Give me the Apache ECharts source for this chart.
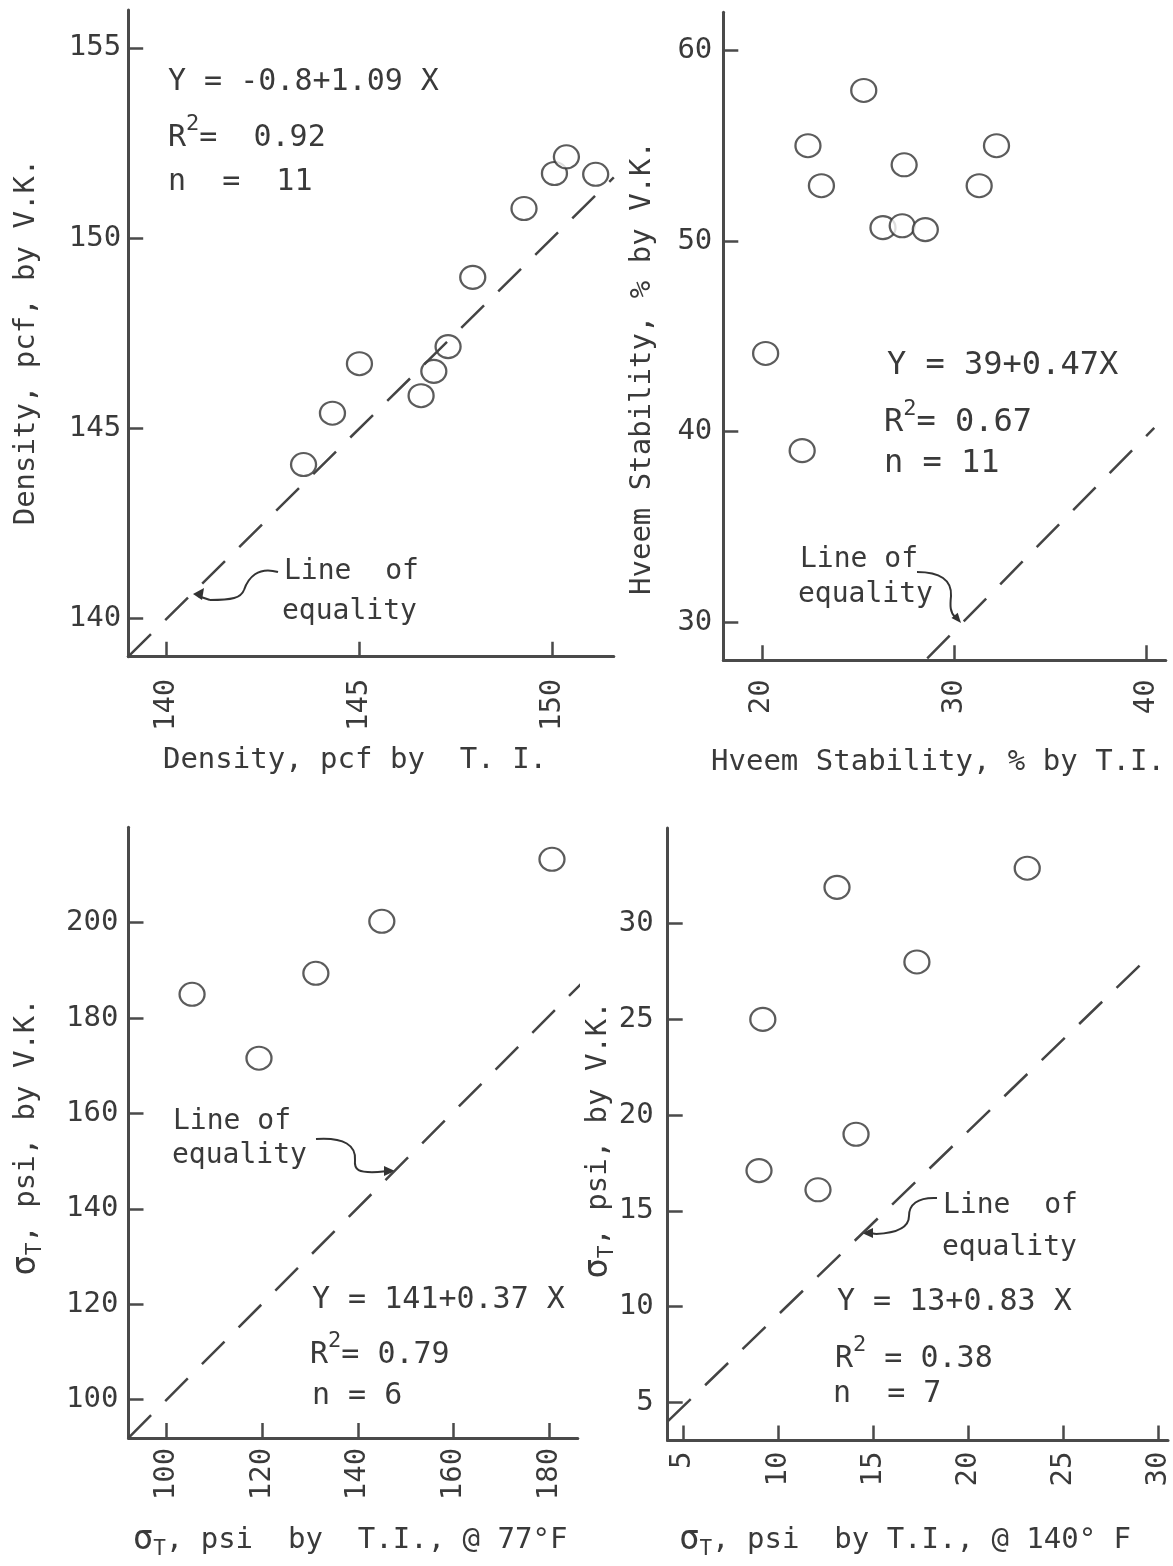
<!DOCTYPE html>
<html>
<head>
<meta charset="utf-8">
<script src="https://cdn.jsdelivr.net/npm/echarts@6/dist/echarts.min.js"></script>
<style>
  html, body { margin: 0; padding: 0; background: #fff; }
  #chart { width: 1173px; height: 1566px; }
</style>
</head>
<body>
<div id="chart"></div>
<script>
// values
const densityTI = [143.55, 144.3, 145.0, 146.6, 146.93, 147.3, 147.94, 149.27, 150.06, 150.37, 151.13];
const densityVK = [144.05, 145.4, 146.7, 145.86, 146.5, 147.15, 148.97, 150.78, 151.7, 152.14, 151.68];
const densityTicksX = [140, 145, 150];
const densityTicksY = [140, 145, 150, 155];
const densityEquality = [[139, 139], [151.6, 151.6]];

const hveemTI = [20.2, 22.4, 22.1, 23.1, 25.3, 26.3, 27.3, 27.4, 28.5, 31.3, 32.2];
const hveemVK = [44.1, 55.0, 39.0, 52.9, 57.9, 50.7, 50.8, 54.0, 50.6, 52.9, 55.0];
const hveemTicksX = [20, 30, 40];
const hveemTicksY = [30, 40, 50, 60];
const hveemEquality = [[28.6, 28.1], [40.4, 40.2]];

const sigma77TI = [105.3, 119.3, 131.2, 145.0, 180.6];
const sigma77VK = [185.0, 171.6, 189.4, 200.3, 213.3];
const sigma77TicksX = [100, 120, 140, 160, 180];
const sigma77TicksY = [100, 120, 140, 160, 180, 200];
const sigma77Equality = [[92, 92], [186.8, 187.3]];

const sigma140TI = [9.0, 9.2, 12.1, 13.1, 14.1, 17.3, 23.1];
const sigma140VK = [17.1, 25.0, 16.1, 31.9, 19.0, 28.0, 32.9];
const sigma140Ticks = [5, 10, 15, 20, 25, 30];
const sigma140Equality = [[4.2, 4.0], [29.1, 27.9]];

const FONT = 'DejaVu Sans Mono';
const INK = '#3a3a3a';
const AXIS = '#4a4a4a';

const zip = (xs, ys) => xs.map((x, i) => [x, ys[i]]);

function xAxisFor(grid, min, max, ticks, margin) {
  return {
    gridIndex: grid, type: 'value', min: min, max: max,
    axisLine: { show: true, onZero: false, lineStyle: { color: AXIS, width: 3 } },
    axisTick: { show: true, inside: true, length: 15, customValues: ticks, lineStyle: { color: AXIS, width: 2.5 } },
    axisLabel: { customValues: ticks, rotate: 90, margin: margin, color: INK, fontFamily: FONT, fontSize: 29 },
    splitLine: { show: false }
  };
}
function yAxisFor(grid, min, max, ticks, margin) {
  return {
    gridIndex: grid, type: 'value', min: min, max: max,
    axisLine: { show: true, onZero: false, lineStyle: { color: AXIS, width: 3 } },
    axisTick: { show: true, inside: true, length: 15, customValues: ticks, lineStyle: { color: AXIS, width: 2.5 } },
    axisLabel: { customValues: ticks, margin: margin, color: INK, fontFamily: FONT, fontSize: 29 },
    splitLine: { show: false }
  };
}
function points(i, data) {
  return {
    type: 'scatter', xAxisIndex: i, yAxisIndex: i, data: data, silent: true,
    symbol: 'circle', symbolSize: [25, 23],
    itemStyle: { color: '#fff', borderColor: '#333', borderWidth: 2.2 }
  };
}
function equality(i, data) {
  return {
    type: 'line', xAxisIndex: i, yAxisIndex: i, data: data, silent: true, clip: false,
    showSymbol: false, symbol: 'none',
    lineStyle: { color: '#444', width: 2.5, type: [32, 20] }
  };
}

function rich(size) {
  return {
    a: { fontFamily: FONT, fontSize: size, fill: INK, verticalAlign: 'middle' },
    sup: { fontFamily: FONT, fontSize: 22, fill: INK, verticalAlign: 'bottom', padding: [0, 0, 28, 0] },
    s: { fontFamily: FONT, fontSize: 34, fill: INK, verticalAlign: 'middle' },
    sub: { fontFamily: FONT, fontSize: 21, fill: INK, verticalAlign: 'top', padding: [20, 0, 0, 0] }
  };
}
function txt(x, y, str, size, extra) {
  return Object.assign({
    type: 'text', x: x, y: y, silent: true,
    style: { text: str, fill: INK, fontFamily: FONT, fontSize: size, textAlign: 'left', textVerticalAlign: 'middle', rich: rich(size) }
  }, extra || {});
}
function title(x, y, str, vertical) {
  const el = txt(x, y, str, 29);
  el.style.textAlign = 'center';
  if (vertical) el.rotation = Math.PI / 2;
  return el;
}
// curved pointer: two cubic pieces, a straight tail and a filled head
function arrow(c1, c2, tail, head) {
  const stroke = { fill: 'none', stroke: '#333', lineWidth: 2 };
  const curve = (c) => ({
    type: 'bezierCurve', silent: true, style: stroke,
    shape: { x1: c[0], y1: c[1], cpx1: c[2], cpy1: c[3], cpx2: c[4], cpy2: c[5], x2: c[6], y2: c[7] }
  });
  return [
    curve(c1),
    curve(c2),
    { type: 'line', silent: true, style: stroke, shape: { x1: c2[6], y1: c2[7], x2: tail[0], y2: tail[1] } },
    { type: 'polygon', silent: true, shape: { points: head }, style: { fill: '#333' } }
  ];
}

const graphic = [
  // panel 1
  txt(168, 82, 'Y = -0.8+1.09 X', 30),
  txt(168, 138, '{a|R}{sup|2}{a|=  0.92}', 30),
  txt(168, 182, 'n  =  11', 30),
  txt(284, 572, 'Line  of', 28),
  txt(282, 612, 'equality', 28),
  ...arrow([278, 572, 258, 566, 248, 578, 244, 590], [244, 590, 241, 598, 232, 600, 210, 600], [198, 596],
           [[193, 594], [204, 588], [202, 600]]),
  title(26, 342, 'Density, pcf, by V.K.', true),
  title(355, 760, 'Density, pcf by  T. I.', false),
  // panel 2
  txt(887, 366, 'Y = 39+0.47X', 32),
  txt(884, 423, '{a|R}{sup|2}{a|= 0.67}', 32),
  txt(884, 464, 'n = 11', 32),
  txt(800, 560, 'Line of', 28),
  txt(798, 595, 'equality', 28),
  ...arrow([917, 572, 940, 572, 952, 580, 951, 596], [951, 596, 950, 606, 950, 612, 955, 617], [957, 619],
           [[961, 623], [957.7, 612.7], [951.5, 617.9]]),
  title(642, 368, 'Hveem Stability, % by V.K.', true),
  title(938, 762, 'Hveem Stability, % by T.I.', false),
  // panel 3
  txt(312, 1300, 'Y = 141+0.37 X', 30),
  txt(310, 1355, '{a|R}{sup|2}{a|= 0.79}', 30),
  txt(312, 1396, 'n = 6', 30),
  txt(173, 1122, 'Line of', 28),
  txt(172, 1156, 'equality', 28),
  ...arrow([316, 1139, 345, 1137, 356, 1146, 355, 1160], [355, 1160, 354, 1170, 358, 1173, 378, 1172], [388, 1171],
           [[395, 1171], [384, 1166], [384, 1176]]),
  title(26, 1137, '{s|σ}{sub|T}{a|, psi, by V.K.}', true),
  title(350, 1540, '{s|σ}{sub|T}{a|, psi  by  T.I., @ 77°F}', false),
  // panel 4
  txt(837, 1302, 'Y = 13+0.83 X', 30),
  txt(835, 1359, '{a|R}{sup|2}{a| = 0.38}', 30),
  txt(833, 1394, 'n  = 7', 30),
  txt(943, 1206, 'Line  of', 28),
  txt(942, 1248, 'equality', 28),
  ...arrow([937, 1198, 917, 1197, 909, 1205, 909, 1216], [909, 1216, 909, 1228, 897, 1233, 876, 1234], [870, 1233],
           [[862, 1233], [873, 1228], [873, 1238]]),
  title(598, 1140, '{s|σ}{sub|T}{a|, psi, by V.K.}', true),
  title(905, 1540, '{s|σ}{sub|T}{a|, psi  by T.I., @ 140° F}', false)
];

const chart = echarts.init(document.getElementById('chart'));
chart.setOption({
  animation: false,
  backgroundColor: '#fff',
  grid: [
    { left: 128.2, top: 9.9, width: 485.6, height: 646.8 },
    { left: 723.3, top: 12.3, width: 442.5, height: 648 },
    { left: 128.5, top: 827.3, width: 449.3, height: 610.6 },
    { left: 667.7, top: 828, width: 502.6, height: 612.5 }
  ],
  xAxis: [
    xAxisFor(0, 139, 151.6, densityTicksX, 22),
    xAxisFor(1, 18, 41, hveemTicksX, 19),
    xAxisFor(2, 92, 186, sigma77TicksX, 10),
    xAxisFor(3, 4.2, 30.5, sigma140Ticks, 11)
  ],
  yAxis: [
    yAxisFor(0, 139, 156, densityTicksY, 7),
    yAxisFor(1, 28, 62, hveemTicksY, 11),
    yAxisFor(2, 92, 220, sigma77TicksY, 10),
    yAxisFor(3, 3, 35, sigma140Ticks, 14)
  ],
  series: [
    equality(0, densityEquality),
    points(0, zip(densityTI, densityVK)),
    equality(1, hveemEquality),
    points(1, zip(hveemTI, hveemVK)),
    equality(2, sigma77Equality),
    points(2, zip(sigma77TI, sigma77VK)),
    equality(3, sigma140Equality),
    points(3, zip(sigma140TI, sigma140VK))
  ],
  graphic: graphic
});
</script>
</body>
</html>
